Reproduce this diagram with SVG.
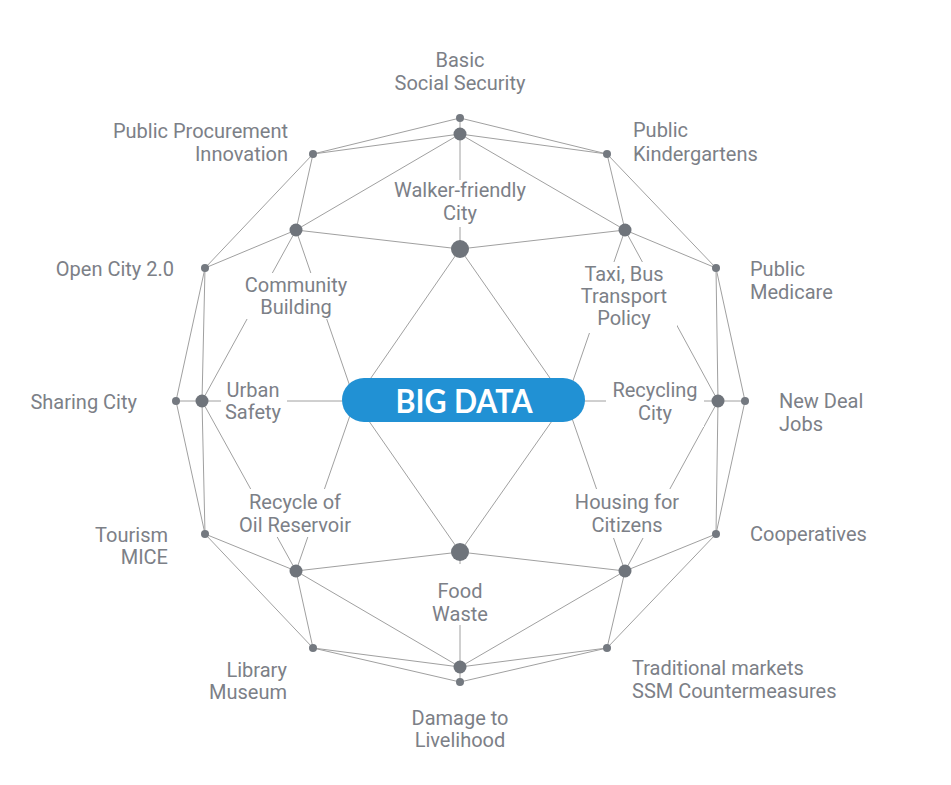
<svg xmlns="http://www.w3.org/2000/svg" width="951" height="785" viewBox="0 0 951 785">
<defs>
<style>
.ln{stroke:#a0a0a0;stroke-width:1;fill:none}
.lb{font-family:Roboto,"Liberation Sans",sans-serif;font-size:20px;fill:#7c8087}
.m{text-anchor:middle}.e{text-anchor:end}.s{text-anchor:start}
.bg{fill:#fff}
.o{fill:#747980}
.d{fill:#6f747b}
</style>
</defs>
<rect width="951" height="785" fill="#fff"/>
<g id="connectors" class="ln">
<!-- outer ring -->
<polyline points="460,118 607,154 716,268 745,401 716,534 607,648 460,682 313,648 205,534 176,401 205,268 313,154 460,118"/>
<!-- middle to outer -->
<line x1="460" y1="134" x2="460" y2="118"/>
<line x1="460" y1="134" x2="313" y2="154"/>
<line x1="460" y1="134" x2="607" y2="154"/>
<line x1="625" y1="230" x2="607" y2="154"/>
<line x1="625" y1="230" x2="716" y2="268"/>
<line x1="718" y1="401" x2="716" y2="268"/>
<line x1="718" y1="401" x2="745" y2="401"/>
<line x1="718" y1="401" x2="716" y2="534"/>
<line x1="625" y1="571" x2="716" y2="534"/>
<line x1="625" y1="571" x2="607" y2="648"/>
<line x1="460" y1="667" x2="607" y2="648"/>
<line x1="460" y1="667" x2="460" y2="682"/>
<line x1="460" y1="667" x2="313" y2="648"/>
<line x1="296" y1="571" x2="313" y2="648"/>
<line x1="296" y1="571" x2="205" y2="534"/>
<line x1="202" y1="401" x2="205" y2="534"/>
<line x1="202" y1="401" x2="176" y2="401"/>
<line x1="202" y1="401" x2="205" y2="268"/>
<line x1="296" y1="230" x2="205" y2="268"/>
<line x1="296" y1="230" x2="313" y2="154"/>
<!-- middle ring -->
<polyline points="296,230 460,134 625,230 718,401 625,571 460,667 296,571 202,401 296,230"/>
<!-- middle to inner -->
<line x1="460" y1="134" x2="460" y2="249"/>
<line x1="296" y1="230" x2="460" y2="249"/>
<line x1="625" y1="230" x2="460" y2="249"/>
<line x1="460" y1="667" x2="460" y2="552"/>
<line x1="296" y1="571" x2="460" y2="552"/>
<line x1="625" y1="571" x2="460" y2="552"/>
<!-- to hub -->
<line x1="296" y1="230" x2="355" y2="401"/>
<line x1="202" y1="401" x2="355" y2="401"/>
<line x1="296" y1="571" x2="355" y2="401"/>
<line x1="625" y1="230" x2="566" y2="401"/>
<line x1="718" y1="401" x2="566" y2="401"/>
<line x1="625" y1="571" x2="566" y2="401"/>
<line x1="460" y1="249" x2="355" y2="401"/>
<line x1="460" y1="249" x2="566" y2="401"/>
<line x1="460" y1="552" x2="355" y2="401"/>
<line x1="460" y1="552" x2="566" y2="401"/>
</g>

<g id="big-data">
<rect x="342" y="378" width="243" height="44" rx="22" fill="#2191d4"/>
<text x="464" y="413" text-anchor="middle" font-family="Lato,'Noto Sans',sans-serif" font-weight="700" font-size="32" fill="#fff" textLength="137" lengthAdjust="spacingAndGlyphs">BIG DATA</text>
</g>

<!-- inner big dots -->
<g id="node-inner-top"><circle class="d" cx="460" cy="249" r="9"/></g>
<g id="node-inner-bottom"><circle class="d" cx="460" cy="552" r="9"/></g>

<!-- middle nodes with labels -->
<g id="node-walker-friendly">
<rect class="bg" x="382" y="180" width="156" height="47"/>
<text class="lb m" x="460" y="197">Walker-friendly</text>
<text class="lb m" x="460" y="220">City</text>
<circle class="d" cx="460" cy="134" r="6.5"/>
</g>
<g id="node-community-building">
<rect class="bg" x="238" y="273" width="116" height="46"/>
<text class="lb m" x="296" y="292">Community</text>
<text class="lb m" x="296" y="314">Building</text>
<circle class="d" cx="296" cy="230" r="6.5"/>
</g>
<g id="node-taxi-bus">
<rect class="bg" x="573" y="262" width="104" height="71"/>
<text class="lb m" x="624" y="281">Taxi, Bus</text>
<text class="lb m" x="624" y="303">Transport</text>
<text class="lb m" x="624" y="325">Policy</text>
<circle class="d" cx="625" cy="230" r="6.5"/>
</g>
<g id="node-urban-safety">
<rect class="bg" x="221" y="380" width="66" height="45"/>
<text class="lb m" x="253" y="397">Urban</text>
<text class="lb m" x="253" y="419">Safety</text>
<circle class="d" cx="202" cy="401" r="6.5"/>
</g>
<g id="node-recycling-city">
<rect class="bg" x="606" y="380" width="98" height="47"/>
<text class="lb m" x="655" y="397">Recycling</text>
<text class="lb m" x="655" y="420">City</text>
<circle class="d" cx="718" cy="401" r="6.5"/>
</g>
<g id="node-recycle-oil">
<rect class="bg" x="233" y="489" width="124" height="48"/>
<text class="lb m" x="295" y="509">Recycle of</text>
<text class="lb m" x="295" y="532">Oil Reservoir</text>
<circle class="d" cx="296" cy="571" r="6.5"/>
</g>
<g id="node-housing">
<rect class="bg" x="572" y="489" width="110" height="49"/>
<text class="lb m" x="627" y="509">Housing for</text>
<text class="lb m" x="627" y="532">Citizens</text>
<circle class="d" cx="625" cy="571" r="6.5"/>
</g>
<g id="node-food-waste">
<rect class="bg" x="428" y="564" width="64" height="61"/>
<text class="lb m" x="460" y="598">Food</text>
<text class="lb m" x="460" y="621">Waste</text>
<circle class="d" cx="460" cy="667" r="6.5"/>
</g>

<!-- outer nodes -->
<g id="node-basic-social-security">
<circle class="o" cx="460" cy="118" r="4"/>
<text class="lb m" x="460" y="67">Basic</text>
<text class="lb m" x="460" y="90">Social Security</text>
</g>
<g id="node-public-procurement">
<circle class="o" cx="313" cy="154" r="4"/>
<text class="lb e" x="288" y="138">Public Procurement</text>
<text class="lb e" x="288" y="161">Innovation</text>
</g>
<g id="node-public-kindergartens">
<circle class="o" cx="607" cy="154" r="4"/>
<text class="lb s" x="633" y="137">Public</text>
<text class="lb s" x="633" y="161">Kindergartens</text>
</g>
<g id="node-open-city">
<circle class="o" cx="205" cy="268" r="4"/>
<text class="lb e" x="174" y="276">Open City 2.0</text>
</g>
<g id="node-public-medicare">
<circle class="o" cx="716" cy="268" r="4"/>
<text class="lb s" x="750" y="276">Public</text>
<text class="lb s" x="750" y="299">Medicare</text>
</g>
<g id="node-sharing-city">
<circle class="o" cx="176" cy="401" r="4"/>
<text class="lb e" x="137" y="409">Sharing City</text>
</g>
<g id="node-new-deal-jobs">
<circle class="o" cx="745" cy="401" r="4"/>
<text class="lb s" x="779" y="408">New Deal</text>
<text class="lb s" x="779" y="431">Jobs</text>
</g>
<g id="node-tourism-mice">
<circle class="o" cx="205" cy="534" r="4"/>
<text class="lb e" x="168" y="542">Tourism</text>
<text class="lb e" x="168" y="564">MICE</text>
</g>
<g id="node-cooperatives">
<circle class="o" cx="716" cy="534" r="4"/>
<text class="lb s" x="750" y="541">Cooperatives</text>
</g>
<g id="node-library-museum">
<circle class="o" cx="313" cy="648" r="4"/>
<text class="lb e" x="287" y="677">Library</text>
<text class="lb e" x="287" y="699">Museum</text>
</g>
<g id="node-traditional-markets">
<circle class="o" cx="607" cy="648" r="4"/>
<text class="lb s" x="632" y="675">Traditional markets</text>
<text class="lb s" x="632" y="698">SSM Countermeasures</text>
</g>
<g id="node-damage-livelihood">
<circle class="o" cx="460" cy="682" r="4"/>
<text class="lb m" x="460" y="725">Damage to</text>
<text class="lb m" x="460" y="747">Livelihood</text>
</g>
</svg>
